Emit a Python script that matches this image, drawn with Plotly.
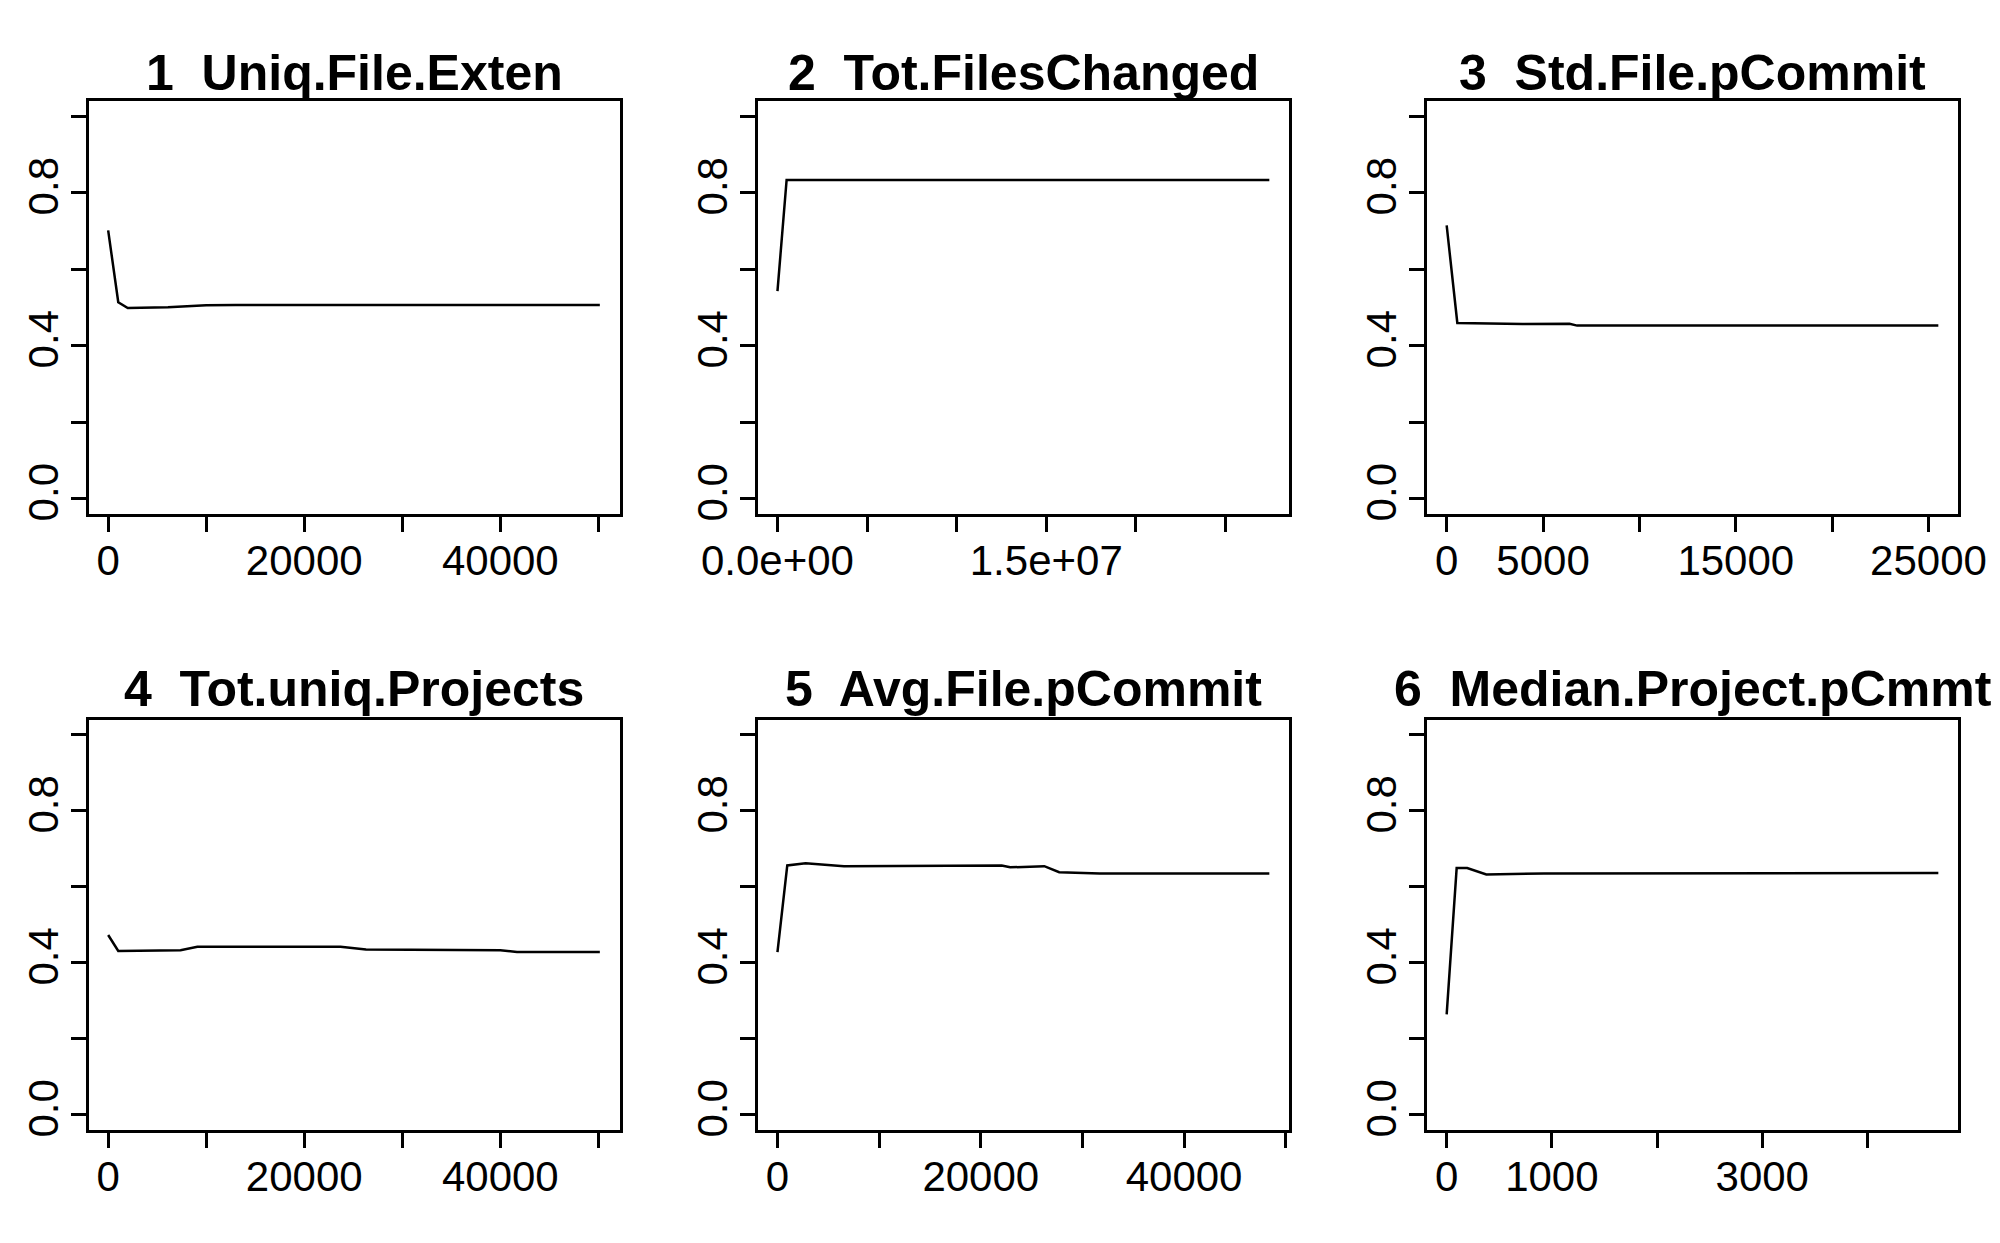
import plotly.graph_objects as go

# ---- data ----
titles = ["1\u00a0 Uniq.File.Exten", "2\u00a0 Tot.FilesChanged", "3\u00a0 Std.File.pCommit",
          "4\u00a0 Tot.uniq.Projects", "5\u00a0 Avg.File.pCommit", "6\u00a0 Median.Project.pCmmt"]

x1 = [0, 1030, 2000, 6100, 10000, 13000, 20000, 30000, 40000, 50150]
y1 = [0.701, 0.513, 0.498, 0.500, 0.505, 0.506, 0.506, 0.506, 0.506, 0.506]

x2 = [0, 510000, 5000000, 15000000, 27450000]
y2 = [0.542, 0.833, 0.833, 0.833, 0.833]

x3 = [0, 553, 3938, 6372, 6770, 15000, 25510]
y3 = [0.714, 0.459, 0.456, 0.457, 0.452, 0.452, 0.452]

x4 = [0, 1030, 7380, 9100, 23700, 26300, 40000, 41700, 50150]
y4 = [0.473, 0.431, 0.433, 0.442, 0.442, 0.4345, 0.433, 0.428, 0.428]

x5 = [0, 964, 2767, 6541, 22055, 22893, 26247, 27715, 31698, 48386]
y5 = [0.428, 0.656, 0.662, 0.654, 0.656, 0.651, 0.654, 0.638, 0.635, 0.635]

x6 = [0, 95, 195, 377, 924, 4674]
y6 = [0.264, 0.649, 0.649, 0.632, 0.635, 0.636]

xs = [x1, x2, x3, x4, x5, x6]
ys = [y1, y2, y3, y4, y5, y6]

xtick_vals = [
    [0, 10000, 20000, 30000, 40000, 50000],
    [0, 5e6, 1e7, 1.5e7, 2e7, 2.5e7],
    [0, 5000, 10000, 15000, 20000, 25000],
    [0, 10000, 20000, 30000, 40000, 50000],
    [0, 10000, 20000, 30000, 40000, 50000],
    [0, 1000, 2000, 3000, 4000],
]
xtick_text = [
    ["0", "", "20000", "", "40000", ""],
    ["0.0e+00", "", "", "1.5e+07", "", ""],
    ["0", "5000", "", "15000", "", "25000"],
    ["0", "", "20000", "", "40000", ""],
    ["0", "", "20000", "", "40000", ""],
    ["0", "1000", "", "3000", ""],
]
ytick_vals = [0, 0.2, 0.4, 0.6, 0.8, 1.0]
ytick_text = ["0.0", "", "0.4", "", "0.8", ""]

# ---- layout geometry (page pixels in the 2000x1243 window) ----
OFF = 8                      # default body margin of the html page
W, H = 2000 - 2 * OFF, 1243 - 2 * OFF
col_px = [(88.5, 619.5), (757.8, 1289.0), (1427.0, 1958.0)]
row_px = [(100.7, 513.8), (719.5, 1129.9)]
title_gap = [7.2, 10.7]

FONT = "Liberation Sans, Arial, Helvetica, sans-serif"
LW = 2.5
TICKFONT = 42
TITLEFONT = 50

fig = go.Figure()
layout = dict(
    template="none",
    width=W, height=H, margin=dict(l=0, r=0, t=0, b=0, autoexpand=False),
    paper_bgcolor="white", plot_bgcolor="white", showlegend=False,
    font=dict(family=FONT, size=TICKFONT, color="black"),
    annotations=[],
)

for i in range(6):
    r, c = divmod(i, 3)
    sfx = "" if i == 0 else str(i + 1)
    xa, ya = "x" + sfx, "y" + sfx
    fig.add_trace(go.Scatter(x=xs[i], y=ys[i], mode="lines",
                             line=dict(color="black", width=LW),
                             xaxis=xa, yaxis=ya, hoverinfo="skip"))
    xmin, xmax = min(xs[i]), max(xs[i])
    pad = 0.04 * (xmax - xmin)
    x0p, x1p = col_px[c][0] - OFF, col_px[c][1] - OFF
    ytop, ybot = row_px[r][0] - OFF, row_px[r][1] - OFF
    layout["xaxis" + sfx] = dict(
        domain=[x0p / W, x1p / W], anchor=ya, range=[xmin - pad, xmax + pad],
        automargin=False,
        showgrid=False, zeroline=False, showline=True, mirror=True,
        linecolor="black", linewidth=LW,
        ticks="outside", ticklen=15, tickwidth=LW, tickcolor="black",
        tickmode="array", tickvals=xtick_vals[i], ticktext=xtick_text[i],
        tickangle=0, ticklabelstandoff=-7,
        tickfont=dict(family=FONT, size=TICKFONT, color="black"),
    )
    layout["yaxis" + sfx] = dict(
        domain=[1 - ybot / H, 1 - ytop / H], anchor=xa, range=[-0.04, 1.04],
        automargin=False,
        showgrid=False, zeroline=False, showline=True, mirror=True,
        linecolor="black", linewidth=LW,
        ticks="outside", ticklen=15, tickwidth=LW, tickcolor="black",
        tickmode="array", tickvals=ytick_vals, ticktext=ytick_text,
        tickangle=-90, ticklabelstandoff=-4,
        tickfont=dict(family=FONT, size=TICKFONT, color="black"),
    )
    layout["annotations"].append(dict(
        text="<b>" + titles[i] + "</b>", xref="paper", yref="paper",
        x=(x0p + x1p) / 2 / W, y=1 - (ytop - title_gap[r] + 10) / H,
        xanchor="center", yanchor="bottom", showarrow=False,
        font=dict(family=FONT, size=TITLEFONT, color="black"),
    ))

fig.update_layout(**layout)
fig.write_html("out.html")
